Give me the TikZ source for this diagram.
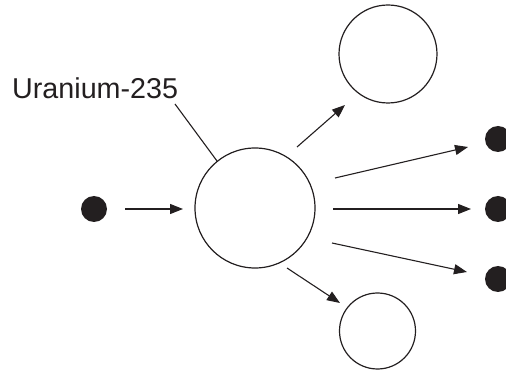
\documentclass[tikz,border=0pt]{standalone}
\usepackage{fontspec}
\setmainfont{Liberation Sans}
\usetikzlibrary{arrows.meta}
\definecolor{ink}{HTML}{231F20}
\begin{document}
\begin{tikzpicture}[x=1pt,y=-1pt,
  atom/.style={circle,draw=ink,line width=1.2pt,inner sep=0pt,minimum size=#1},
  neutron/.style={circle,fill=ink,inner sep=0pt,minimum size=26pt},
  flow/.style={draw=ink,line width=1.1pt,-{Triangle[length=13pt,width=10pt]}},
  lead/.style={draw=ink,line width=1.1pt}]
\useasboundingbox (0,0) rectangle (506,371);
\node[neutron] (n0) at (94,209) {};
\node[atom=120pt] (u) at (255,208) {};
\node[atom=98pt] (fa) at (388,54) {};
\node[atom=76pt] (fb) at (377.5,331) {};
\node[neutron] (n1) at (498,139) {};
\node[neutron] (n2) at (498,209) {};
\node[neutron] (n3) at (498,279) {};
\node[text=ink,font=\fontsize{28.7}{30}\selectfont,anchor=base west,inner sep=0pt] (lbl) at (12,99) {Uranium-235};
\coordinate (l0) at (175,104);
\coordinate (l1) at (217,161);
\coordinate (a0) at (125,209);
\coordinate (a1) at (183,209);
\coordinate (b0) at (297,147);
\coordinate (b1) at (345,105);
\coordinate (c0) at (287,268);
\coordinate (c1) at (340,303);
\coordinate (d0) at (335,178);
\coordinate (d1) at (468,147);
\coordinate (e0) at (333,209);
\coordinate (e1) at (471,209);
\coordinate (f0) at (332,243);
\coordinate (f1) at (467,272);
\draw[lead] (l0) -- (l1);
\draw[flow] (a0) -- (a1);
\draw[flow] (b0) -- (b1);
\draw[flow] (c0) -- (c1);
\draw[flow] (d0) -- (d1);
\draw[flow] (e0) -- (e1);
\draw[flow] (f0) -- (f1);
\end{tikzpicture}
\end{document}
